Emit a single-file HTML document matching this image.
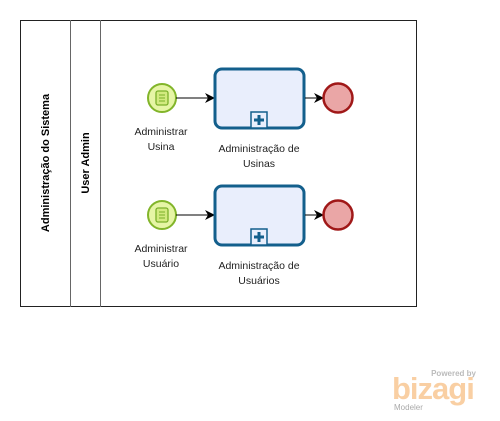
<!DOCTYPE html>
<html><head><meta charset="utf-8"><style>
html,body{margin:0;padding:0;background:#fff;width:500px;height:421px;overflow:hidden}
text{font-family:"Liberation Sans","DejaVu Sans",sans-serif}
</style></head><body>
<svg width="500" height="421" viewBox="0 0 500 421" xmlns="http://www.w3.org/2000/svg">
<rect x="20.5" y="20.5" width="396" height="286" fill="#fff" stroke="#222" stroke-width="1"/>
<line x1="70.5" y1="20" x2="70.5" y2="307" stroke="#666"/>
<line x1="100.5" y1="20" x2="100.5" y2="307" stroke="#666"/>
<text transform="translate(49,163) rotate(-90)" text-anchor="middle" font-size="11" font-weight="bold" fill="#000">Administração do Sistema</text>
<text transform="translate(89,163) rotate(-90)" text-anchor="middle" font-size="11" font-weight="bold" fill="#000">User Admin</text>
<defs><marker id="a" markerWidth="10" markerHeight="10" refX="9" refY="5" orient="auto" markerUnits="userSpaceOnUse"><path d="M0,0 L10,5 L0,10 L3,5 Z" fill="#000"/></marker></defs>
<g>
<circle cx="162" cy="98" r="14" fill="#e6f5a5" stroke="#82b52a" stroke-width="2"/>
<rect x="156" y="91" width="12" height="14" rx="2" fill="#d2ea7f" stroke="#7bb02a" stroke-width="1.3"/>
<line x1="159" y1="95" x2="165" y2="95" stroke="#7bb02a"/><line x1="159" y1="98" x2="165" y2="98" stroke="#7bb02a"/><line x1="159" y1="101" x2="165" y2="101" stroke="#7bb02a"/>
<line x1="176" y1="98" x2="214" y2="98" stroke="#000" marker-end="url(#a)"/>
<rect x="215" y="69" width="89" height="59" rx="7" fill="#e9eefc" stroke="#135f8c" stroke-width="3"/>
<rect x="251" y="112" width="16" height="16" fill="#e9eefc" stroke="#135f8c" stroke-width="1.5"/>
<path d="M259,115 v10 M254,120 h10" stroke="#135f8c" stroke-width="3"/>
<line x1="305" y1="98" x2="323" y2="98" stroke="#000" marker-end="url(#a)"/>
<circle cx="338" cy="98" r="14.5" fill="#eaa6a6" stroke="#a01818" stroke-width="2.5"/>
<text x="161" y="135" text-anchor="middle" font-size="10.5" fill="#222">Administrar</text>
<text x="161" y="150" text-anchor="middle" font-size="10.5" fill="#222">Usina</text>
<text x="259" y="152" text-anchor="middle" font-size="10.5" fill="#222">Administração de</text>
<text x="259" y="167" text-anchor="middle" font-size="10.5" fill="#222">Usinas</text>
</g>
<g transform="translate(0,117)">
<circle cx="162" cy="98" r="14" fill="#e6f5a5" stroke="#82b52a" stroke-width="2"/>
<rect x="156" y="91" width="12" height="14" rx="2" fill="#d2ea7f" stroke="#7bb02a" stroke-width="1.3"/>
<line x1="159" y1="95" x2="165" y2="95" stroke="#7bb02a"/><line x1="159" y1="98" x2="165" y2="98" stroke="#7bb02a"/><line x1="159" y1="101" x2="165" y2="101" stroke="#7bb02a"/>
<line x1="176" y1="98" x2="214" y2="98" stroke="#000" marker-end="url(#a)"/>
<rect x="215" y="69" width="89" height="59" rx="7" fill="#e9eefc" stroke="#135f8c" stroke-width="3"/>
<rect x="251" y="112" width="16" height="16" fill="#e9eefc" stroke="#135f8c" stroke-width="1.5"/>
<path d="M259,115 v10 M254,120 h10" stroke="#135f8c" stroke-width="3"/>
<line x1="305" y1="98" x2="323" y2="98" stroke="#000" marker-end="url(#a)"/>
<circle cx="338" cy="98" r="14.5" fill="#eaa6a6" stroke="#a01818" stroke-width="2.5"/>
<text x="161" y="135" text-anchor="middle" font-size="10.5" fill="#222">Administrar</text>
<text x="161" y="150" text-anchor="middle" font-size="10.5" fill="#222">Usuário</text>
<text x="259" y="152" text-anchor="middle" font-size="10.5" fill="#222">Administração de</text>
<text x="259" y="167" text-anchor="middle" font-size="10.5" fill="#222">Usuários</text>
</g>
<text x="476" y="376" text-anchor="end" font-size="8" font-weight="bold" fill="#bbb">Powered by</text>
<text x="392" y="399" font-size="31" font-weight="bold" fill="#f9cfa3" letter-spacing="-1">bizagi</text>
<text x="394" y="410" font-size="8" fill="#aaa">Modeler</text>
</svg>
</body></html>
